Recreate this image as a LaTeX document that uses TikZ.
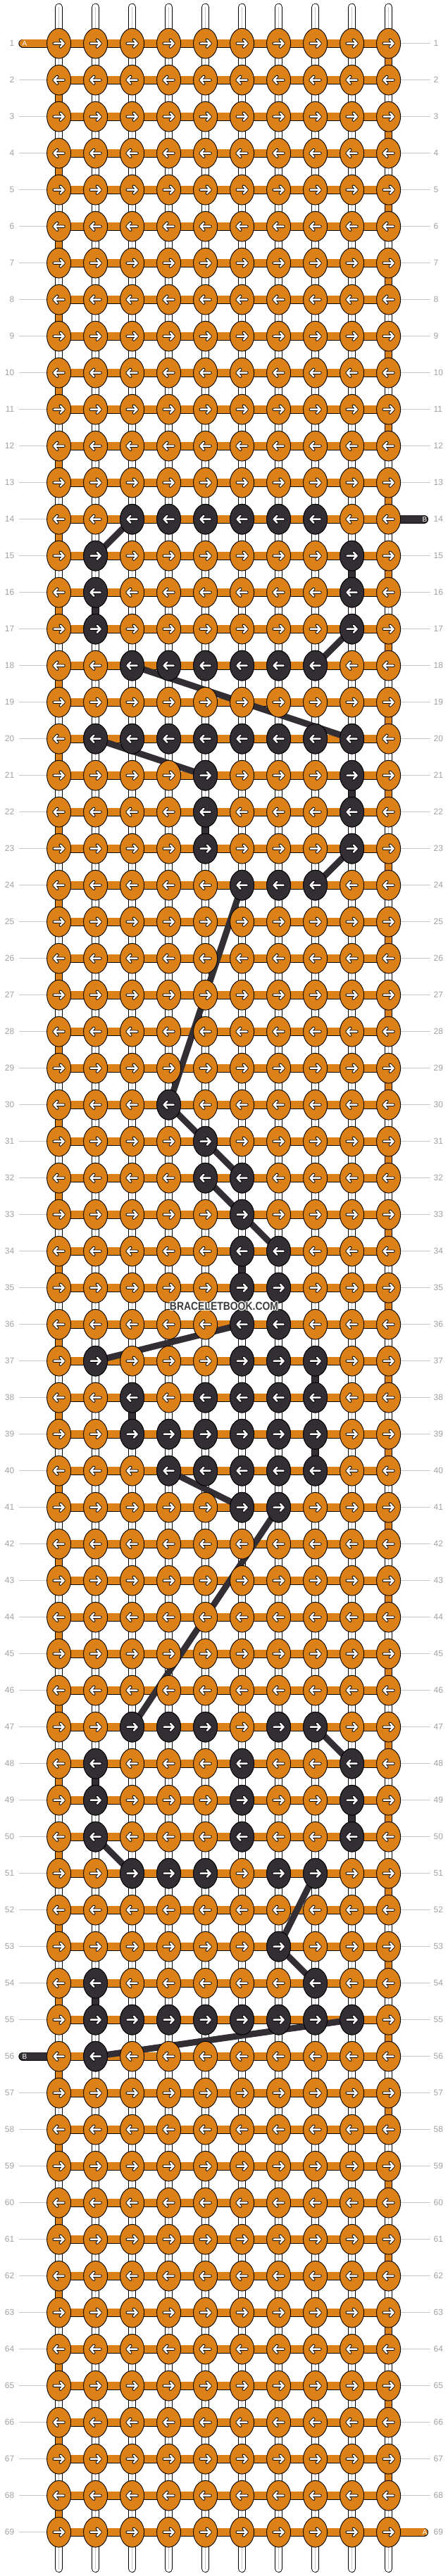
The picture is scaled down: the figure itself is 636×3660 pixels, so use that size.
\documentclass[tikz,border=0pt]{standalone}
\usepackage{fontspec}
\setmainfont{Liberation Sans}
\usetikzlibrary{shapes.geometric, positioning, calc}
\definecolor{knotorange}{HTML}{DB8118}
\definecolor{knotdark}{HTML}{332E33}
\definecolor{rowgray}{HTML}{A0A0A0}
\definecolor{linegray}{HTML}{C8C8C8}
\definecolor{stampgray}{HTML}{3C3C3C}
\pgfdeclarelayer{threads}
\pgfsetlayers{threads,main}
\newcommand{\haloat}[3]{\makebox[0pt][l]{\hspace*{#1}\raisebox{#2}{\color{white}#3}}}
\newcommand{\halotext}[1]{%
  \haloat{-1pt}{0pt}{#1}\haloat{1pt}{0pt}{#1}\haloat{0pt}{1pt}{#1}\haloat{0pt}{-1pt}{#1}%
  \haloat{-.7pt}{.7pt}{#1}\haloat{.7pt}{.7pt}{#1}\haloat{-.7pt}{-.7pt}{#1}\haloat{.7pt}{-.7pt}{#1}%
  #1}

\begin{document}
\begin{tikzpicture}[x=1pt, y=-1pt,
  knot/.style={ellipse, draw=black, line width=0.9pt, fill=knotorange,
    minimum width=34pt, minimum height=42.7pt, inner sep=0pt},
  darkknot/.style={knot, fill=knotdark},
  warp/.style={draw=black, line width=0.8pt, double=white, double distance=9.4pt},
  warpmid/.style={draw=linegray, line width=0.6pt},
  turn/.style={draw=black, line width=0.8pt, double=knotorange, double distance=9.4pt},
  darkwarp/.style={draw=black, line width=0.8pt, double=knotdark, double distance=9.4pt},
  weft/.style={draw=black, line width=0.9pt, double=knotorange, double distance=10.5pt},
  darkweft/.style={draw=black, line width=0.9pt, double=knotdark, double distance=10.5pt},
  carry/.style={draw=knotdark, line width=9pt},
  rownum/.style={font=\fontsize{12}{14}\selectfont, text=rowgray, inner sep=0pt},
  rowline/.style={draw=linegray, line width=0.8pt},
  tag/.style={font=\fontsize{10}{12}\selectfont, text=white, inner sep=0pt},
  watermark/.style={font=\fontsize{16.3}{18}\selectfont\bfseries, text=stampgray, inner sep=0pt},
  knotarrow/.pic={
    \draw[line width=4.2pt, line cap=round, line join=round, black]
      (-7,0) -- (7,0) (2.2,-5) -- (7,0) -- (2.2,5);
    \draw[line width=2.5pt, line cap=round, line join=round, white]
      (-7,0) -- (7,0) (2.2,-5) -- (7,0) -- (2.2,5);
  }
]
  \useasboundingbox (0,0) rectangle (636,3660);

  \foreach \r in {1,...,69}
    \foreach \c in {1,...,10}
      \node[knot] (k-\r-\c) at ({31.6+52*\c},{9.7+52*\r}) {};

  \foreach \r/\cols in {14/{3,4,5,6,7,8}, 15/{2,9}, 16/{2,9}, 17/{2,9}, 18/{3,4,5,6,7,8},
      20/{2,3,4,5,6,7,8,9}, 21/{5,9}, 22/{5,9}, 23/{5,9}, 24/{6,7,8},
      30/{4}, 31/{5}, 32/{5,6}, 33/{6}, 34/{6,7}, 35/{6,7}, 36/{6,7},
      37/{2,6,7,8}, 38/{3,5,6,7,8}, 39/{3,4,5,6,7,8}, 40/{4,5,6,7,8}, 41/{6,7},
      47/{3,4,5,7,8}, 48/{2,6,9}, 49/{2,6,9}, 50/{2,6,9}, 51/{3,4,5,7,8},
      53/{7}, 54/{2,8}, 55/{2,3,4,5,6,7,8,9}, 56/{2}}
    \foreach \c in \cols
      \node[darkknot] (k-\r-\c) at (k-\r-\c) {};

  \foreach \r in {1,...,69} {
    \pgfmathtruncatemacro{\turnangle}{180*(1-mod(\r,2))}
    \foreach \c in {1,...,10}
      \pic[rotate=\turnangle] at (k-\r-\c) {knotarrow};
  }

  \node[watermark] (stamp) at (318,1856) {\scalebox{0.855}[1]{\halotext{BRACELETBOOK.COM}}};

  \begin{pgfonlayer}{threads}
    \foreach \r in {1,...,69} {
      \node[rownum, anchor=east] (ln-\r) at (20.5,{9.7+52*\r}) {\r};
      \node[rownum, anchor=west] (rn-\r) at (615.5,{9.7+52*\r}) {\r};
      \ifnum\r=1 \else\ifnum\r=56 \else
        \draw[rowline] ([xshift=6pt]ln-\r.east) -- (k-\r-1.west);
      \fi\fi
      \ifnum\r=14 \else\ifnum\r=69 \else
        \draw[rowline] (k-\r-10.east) -- ([xshift=-5pt]rn-\r.west);
      \fi\fi
    }

    \foreach \c in {1,...,10} {
      \coordinate (top-\c) at ({31.6+52*\c},10.2);
      \coordinate (end-\c) at ({31.6+52*\c},3649.5);
      \draw[warp, line cap=round] (top-\c) -- (k-1-\c.center);
      \draw[warpmid] (top-\c) -- (k-1-\c.center);
      \draw[warp, line cap=round] (k-69-\c.center) -- (end-\c);
      \draw[warpmid] (k-69-\c.center) -- (end-\c);
    }

    \foreach \r in {1,...,68} {
      \pgfmathtruncatemacro{\rn}{\r+1}
      \foreach \c in {1,...,10} {
        \draw[warp] (k-\r-\c.center) -- (k-\rn-\c.center);
        \draw[warpmid] (k-\r-\c.center) -- (k-\rn-\c.center);
      }
      \ifodd\r
        \draw[turn] (k-\r-10.center) -- (k-\rn-10.center);
      \else
        \draw[turn] (k-\r-1.center) -- (k-\rn-1.center);
      \fi
    }

    \foreach \r/\c in {15/9, 16/2, 21/9, 22/5, 34/6, 37/8, 38/3, 39/8, 48/2, 49/9, 54/2} {
      \pgfmathtruncatemacro{\rn}{\r+1}
      \draw[darkwarp] (k-\r-\c.center) -- (k-\rn-\c.center);
    }

    \foreach \r in {1,...,69}
      \draw[weft] (k-\r-1.center) -- (k-\r-10.center);

    \coordinate (tail-a1) at (32.5,61.7);
    \coordinate (tail-a69) at (601.9,3597.7);
    \coordinate (tail-b14) at (601.9,737.7);
    \coordinate (tail-b56) at (32.5,2921.7);
    \draw[weft, line cap=round] (tail-a1) -- (k-1-1.center);
    \draw[weft, line cap=round] (k-69-10.center) -- (tail-a69);
    \draw[darkweft, line cap=round] (k-14-10.center) -- (tail-b14);
    \draw[darkweft, line cap=round] (tail-b56) -- (k-56-1.center);
    \node[tag] (tag-a1) at (35,61.7) {A};
    \node[tag] (tag-a69) at (603,3597.7) {A};
    \node[tag] (tag-b14) at (603,737.7) {B};
    \node[tag] (tag-b56) at (35,2921.7) {B};

    \foreach \ra/\ca/\rb/\cb in {14/3/15/2, 17/9/18/8, 18/3/20/9, 20/2/21/5, 23/9/24/8,
        24/6/30/4, 30/4/31/5, 31/5/32/6, 32/5/33/6, 33/6/34/7, 36/6/37/2,
        40/4/41/6, 41/7/47/3, 47/8/48/9, 50/2/51/3, 51/8/53/7, 53/7/54/8, 55/9/56/2}
      \draw[carry] (k-\ra-\ca.center) -- (k-\rb-\cb.center);
  \end{pgfonlayer}
\end{tikzpicture}
\end{document}
